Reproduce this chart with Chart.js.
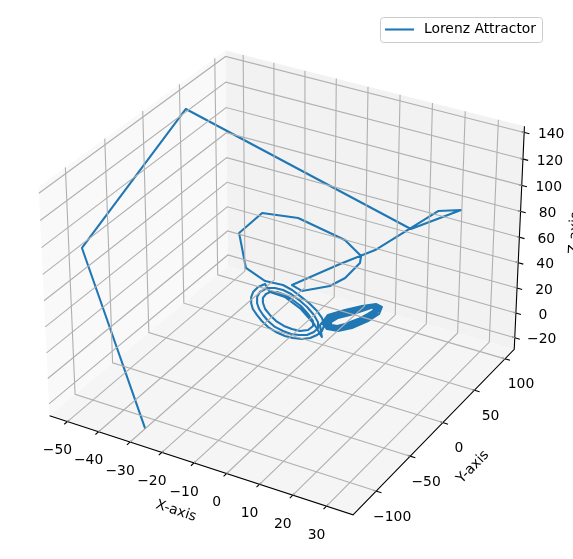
<!DOCTYPE html>
<html><head><meta charset="utf-8">
<style>html,body{margin:0;padding:0;background:#fff}#w{width:573px;height:559px;position:relative;overflow:hidden}</style>
<script src="https://cdn.jsdelivr.net/npm/chart.js@4"></script></head><body><div id="w"><canvas id="c" width="573" height="559"></canvas></div>
<script>
const seriesName='Lorenz Attractor';
const xTicks=[-50,-40,-30,-20,-10,0,10,20,30];
const yTicks=[-100,-50,0,50,100];
const zTicks=[-20,0,20,40,60,80,100,120,140];
const xs=[-27.0,-66.8,-49.1,19.8,33.1,24.8,10.3,0.7,-10.1,-7.9,-3.6,-1.1,0.1,0.2,-4.6,-16.5,-26.5,-31.8,-25.7,-14.7,-10.5,-8.4,-6.7,-4.4,-2.7,-1.4,-1.0,-1.6,-2.7,-4.2,-6.2,-8.3,-10.4,-12.6,-14.4,-15.8,-16.8,-17.7,-18.0,-18.2,
-17.7,-16.5,-14.6,-14.1,-12.3,-10.5,-8.6,-6.8,-5.1,-3.4,-2.6,-2.3,-3.6,-5.1,-7.0,-8.8,-10.8,-12.8,-14.3,-15.4,-16.2,-16.6,-16.8,-16.1,-14.1,-13.7,-12.1,-10.1,-8.3,-6.5,-4.7,-3.7,-3.7,-4.8,-6.8,-8.6,-10.6,-12.4,-13.8,-14.8,
-15.2,-15.2,-14.5,-13.7,-10.3,-6.4,-3.3,-1.7,-2.0,-0.4,3.9,7.9,11.3,12.5,12.0,9.3,5.7,2.2,-0.3,-1.4,-0.1,3.9,7.9,11.3,12.3,11.3,8.6,5.0,2.0,0.0,-0.9,0.3,4.1,7.8,11.0,12.1,10.8,8.2,4.8,2.1,
0.0,-0.4,0.7,4.3,8.1,10.7,11.8,10.4,7.7,4.4,2.2,0.3,0.0,1.5,4.8,8.2,10.5,11.3,9.9,7.2,4.2,1.9,0.6,0.2,1.9,4.9,7.9,10.2,10.8,9.4,7.1,4.0,2.0,0.8,0.5,2.4,5.1,7.9,10.2];
const ys=[-125.4,-41.4,30.0,35.6,43.2,51.3,29.7,24.1,4.7,8.9,30.0,40.8,57.3,58.4,56.8,43.2,36.6,27.0,9.3,-12.7,-6.5,-3.0,0.4,2.9,6.9,8.0,9.5,9.1,7.1,4.0,1.4,-2.2,-4.2,-7.2,-10.2,-12.8,-15.0,-16.9,-18.0,-16.9,
-16.4,-14.7,-13.3,-12.7,-9.9,-6.3,-3.6,-0.2,3.5,5.6,7.8,6.7,6.6,3.5,0.5,-2.7,-5.0,-7.6,-10.6,-12.8,-14.7,-15.9,-14.8,-13.9,-12.7,-10.3,-7.7,-5.4,-2.4,1.0,3.1,5.7,5.8,3.7,1.2,-2.4,-4.7,-7.7,-10.3,-12.5,
-13.7,-13.8,-12.6,-10.3,-4.7,0.5,5.5,9.5,8.0,9.4,16.7,23.0,27.4,30.6,28.8,25.6,19.0,15.0,10.3,8.1,10.7,16.7,23.0,27.4,28.6,27.7,24.5,19.5,14.3,10.3,8.8,11.7,17.4,23.4,27.4,28.3,27.0,23.5,18.9,13.9,
11.9,9.5,12.8,18.1,22.1,27.4,28.3,26.3,22.7,17.8,13.6,12.0,10.2,12.3,17.2,22.9,27.0,27.5,25.5,22.0,17.1,14.8,12.0,12.2,13.0,17.9,22.8,27.0,27.2,24.8,21.3,16.7,14.5,12.4,12.6,13.8,18.6,23.2,25.4];
const zs=[-20,50,138,90,110,100,70,55,40,35,32,35,40,45,55,70,70,55,40,48,45,41,36,31,24,19,13,8,5,3,2,3,4,7,11,16,21,26,31,35,
39,43,46,43,43,41,38,33,27,21,15,11,7,5,5,6,8,11,16,21,26,31,35,39,43,39,39,37,33,28,22,16,12,9,8,10,12,16,21,26,
31,35,38,39,35,26,14,3,13,19,25,28,30,27,22,16,11,8,10,15,21,25,28,30,27,22,16,11,9,11,15,20,24,27,29,27,22,17,12,10,
11,15,19,23,27,28,26,22,17,13,11,12,15,19,23,26,28,26,22,17,14,11,13,15,19,22,25,27,25,22,18,14,12,13,15,19,21,24,27];
const xLim=[-55.8,37.8],yLim=[-133,115.5],zLim=[-29.4,144.6];
const box=[1.19049,1.19049,0.89287];
const U=[.8660254,.5,0],V=[-.25,.4330127,.8660254],W=[.4330127,-.75,.5];
const S=2920,CX=286.2,CY=271.5;
function proj(x,y,z){const d=[(x-xLim[0])/(xLim[1]-xLim[0])*box[0]-box[0]/2,(y-yLim[0])/(yLim[1]-yLim[0])*box[1]-box[1]/2,(z-zLim[0])/(zLim[1]-zLim[0])*box[2]-box[2]/2];
const dot=a=>a[0]*d[0]+a[1]*d[1]+a[2]*d[2];const q=10-dot(W);return {x:dot(U)/q,y:dot(V)/q};}
const [x0,x1]=xLim,[y0,y1]=yLim,[z0,z1]=zLim;
const ds=[];const grid='#b0b0b0';
function L(data,color,w){ds.push({data,borderColor:color,borderWidth:w,pointRadius:0,showLine:true,tension:0,clip:false,label:''});}
xTicks.forEach(t=>L([proj(t,y0,z0),proj(t,y1,z0),proj(t,y1,z1)],grid,1.1));
yTicks.forEach(t=>L([proj(x1,t,z0),proj(x0,t,z0),proj(x0,t,z1)],grid,1.1));
zTicks.forEach(t=>L([proj(x0,y0,t),proj(x0,y1,t),proj(x1,y1,t)],grid,1.1));
L([proj(x0,y0,z0),proj(x1,y0,z0),proj(x1,y1,z0),proj(x1,y1,z1)],'#000',1.1);
const dy=(y1-y0)/12,dx=(x1-x0)/12;
xTicks.forEach(t=>L([proj(t,y0+.1*dy,z0),proj(t,y0-.2*dy,z0)],'#000',1.1));
yTicks.forEach(t=>L([proj(x1-.1*dx,t,z0),proj(x1+.2*dx,t,z0)],'#000',1.1));
zTicks.forEach(t=>L([proj(x1-.1*dx,y1,t),proj(x1+.2*dx,y1,t)],'#000',1.1));
ds.push({label:seriesName,data:xs.map((v,i)=>proj(v,ys[i],zs[i])),borderColor:'#1f77b4',backgroundColor:'#1f77b4',borderWidth:2.08,pointRadius:0,showLine:true,tension:0,clip:false,borderJoinStyle:'round',borderCapStyle:'round'});
const font='13.9px "DejaVu Sans"';
const plug={id:'p',
afterLayout(c){const l=c.legend;l.left=380;l.top=17;l.right=542;l.bottom=42;},
beforeDraw(c){const g=c.ctx,sx=c.scales.x,sy=c.scales.y;const P=a=>{const p=proj(...a);return [sx.getPixelForValue(p.x),sy.getPixelForValue(p.y)]};
const poly=(arr,col)=>{g.beginPath();arr.forEach((a,i)=>{const q=P(a);i?g.lineTo(q[0],q[1]):g.moveTo(q[0],q[1])});g.closePath();g.fillStyle=col;g.fill()};
poly([[x0,y0,z0],[x0,y1,z0],[x0,y1,z1],[x0,y0,z1]],'#f9f9f9');
poly([[x0,y1,z0],[x1,y1,z0],[x1,y1,z1],[x0,y1,z1]],'#f2f2f2');
poly([[x0,y0,z0],[x1,y0,z0],[x1,y1,z0],[x0,y1,z0]],'#f5f5f5');
g.beginPath();g.roundRect(380.5,17.5,162,25,3);g.fillStyle='#fff';g.fill();g.strokeStyle='#ccc';g.lineWidth=1;g.stroke();
g.beginPath();g.moveTo(385,29.5);g.lineTo(414,29.5);g.strokeStyle='#1f77b4';g.lineWidth=2.08;g.stroke();},
afterDraw(c){const g=c.ctx,sx=c.scales.x,sy=c.scales.y;const P=a=>{const p=proj(...a);return [sx.getPixelForValue(p.x),sy.getPixelForValue(p.y)]};
g.font=font;g.fillStyle='#000';g.textAlign='center';g.textBaseline='middle';const n=t=>String(t).replace('-','\u2212');
xTicks.forEach(t=>{const q=P([t,y0,z0]);g.fillText(n(t),q[0]-10,q[1]+29)});
yTicks.forEach(t=>{const q=P([x1,t,z0]);g.fillText(n(t),q[0]+16,q[1]+26)});
zTicks.forEach(t=>{const q=P([x1,y1,t]);g.fillText(n(t),q[0]+27,q[1]+2)});
const rot=(s,x,y,a)=>{g.save();g.translate(x,y);g.rotate(a*Math.PI/180);g.fillText(s,0,0);g.restore()};
rot('X-axis',176,511,18);rot('Y-axis',473,467,-46);rot('Z-axis',575,233,-87.4);}
};
new Chart(document.getElementById('c'),{type:'scatter',data:{datasets:ds},plugins:[plug],options:{responsive:false,animation:false,layout:{padding:0},
scales:{x:{type:'linear',display:false,min:-CX/S,max:(573-CX)/S},y:{type:'linear',display:false,min:(CY-559)/S,max:CY/S}},
plugins:{tooltip:{enabled:false},legend:{position:'chartArea',align:'start',labels:{generateLabels:c=>Chart.defaults.plugins.legend.labels.generateLabels(c).map(i=>Object.assign(i,{fillStyle:'rgba(0,0,0,0)',strokeStyle:'rgba(0,0,0,0)',lineWidth:0})),filter:i=>i.text===seriesName,boxWidth:32,boxHeight:2,color:'#000',font:{family:'DejaVu Sans',size:13.9},padding:5}}}}});
</script></body></html>
